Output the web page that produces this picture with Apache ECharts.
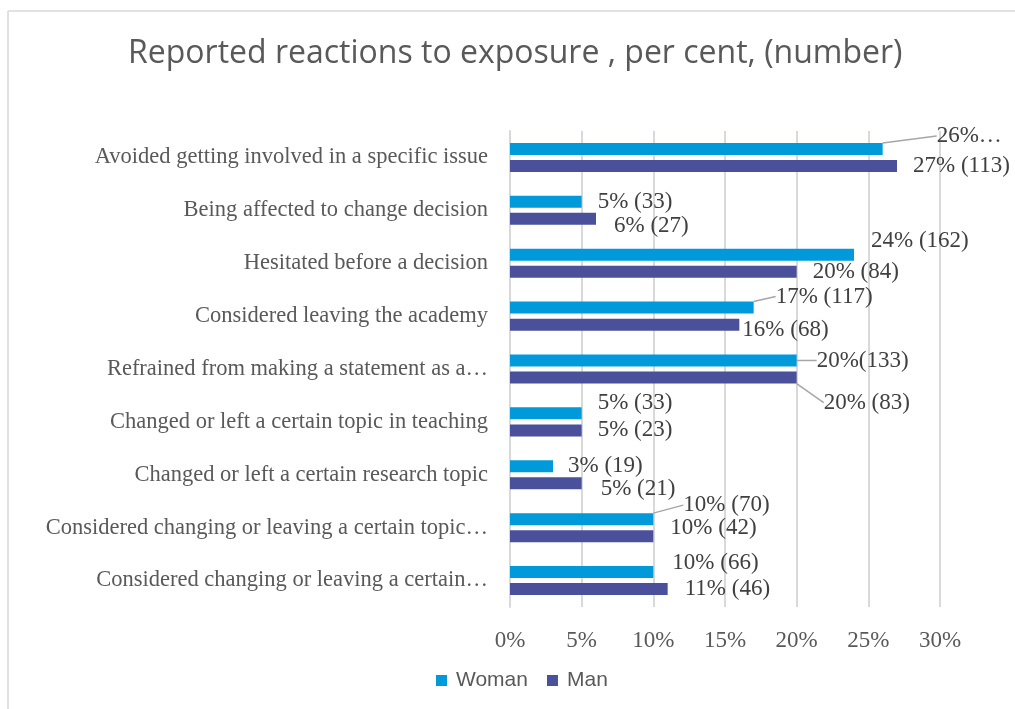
<!DOCTYPE html>
<html>
<head>
<meta charset="utf-8">
<script src="https://cdn.jsdelivr.net/npm/echarts@6/dist/echarts.min.js"></script>
<style>
  html, body { margin: 0; padding: 0; background: #fff; }
  #chart { width: 1015px; height: 709px; }
</style>
</head>
<body>
<div id="chart"></div>
<script>
var categories = [
    'Avoided getting involved in a specific issue',
    'Being affected to change decision',
    'Hesitated before a decision',
    'Considered leaving the academy',
    'Refrained from making a statement as a\u2026',
    'Changed or left a certain topic in teaching',
    'Changed or left a certain research topic',
    'Considered changing or leaving a certain topic\u2026',
    'Considered changing or leaving a certain\u2026'
];
var womanValues = [26, 5, 24, 17, 20, 5, 3, 10, 10];
var manValues = [27, 6, 20, 16, 20, 5, 5, 10, 11];
var womanLabels = ['26%\u2026', '5% (33)', '24% (162)', '17% (117)', '20%(133)', '5% (33)', '3% (19)', '10% (70)', '10% (66)'];
var manLabels = ['27% (113)', '6% (27)', '20% (84)', '16% (68)', '20% (83)', '5% (23)', '5% (21)', '10% (42)', '11% (46)'];
var xTicks = [0, 5, 10, 15, 20, 25, 30];

// where Excel moved the data labels by hand: [dx, dy, leader line]
var womanShift = [[40, -13, 1], [2, 0], [3, -14], [8, -11, 1], [6, 0, 1], [2, -10], [1, 0], [16, -14, 1], [5, -9]];
var manShift = [[2, 0], [4, 7], [2, 0], [-11, 5], [13, 25, 1], [2, 0], [5, 6], [3, -8], [3, 0]];

var textGrey = '#595959';
var serif = '"Liberation Serif", "DejaVu Serif", serif';

function barData(values, shifts) {
    return values.map(function (v, i) {
        return { value: v, labelLine: { show: !!shifts[i][2] } };
    });
}

function barSeries(name, values, labels, shifts, color) {
    return {
        name: name,
        type: 'bar',
        data: barData(values, shifts),
        barWidth: 12,
        barGap: '42%',
        itemStyle: { color: color },
        label: {
            show: true,
            position: 'right',
            distance: 14,
            fontFamily: serif,
            fontSize: 23,
            color: '#404040',
            formatter: function (p) { return labels[p.dataIndex]; }
        },
        labelLine: {
            lineStyle: { color: '#a6a6a6', width: 1.5 }
        },
        labelLayout: function (p) {
            var s = shifts[p.dataIndex];
            return { dx: s[0], dy: s[1] };
        }
    };
}

var chart = echarts.init(document.getElementById('chart'));
chart.setOption({
    backgroundColor: '#fff',
    animation: false,
    title: {
        text: 'Reported reactions to exposure , per cent, (number)',
        left: 128,
        top: 38,
        padding: 0,
        textStyle: {
            fontFamily: '"Open Sans", sans-serif',
            fontWeight: 'normal',
            fontSize: 32,
            color: textGrey
        }
    },
    legend: {
        left: 436,
        top: 670,
        padding: 0,
        icon: 'rect',
        itemWidth: 11,
        itemHeight: 11,
        itemGap: 19,
        textStyle: {
            fontFamily: '"Liberation Sans", Arial, sans-serif',
            fontSize: 21,
            color: textGrey,
            padding: [0, 0, 0, 4]
        },
        data: ['Woman', 'Man']
    },
    grid: { left: 510, right: 75, top: 131, bottom: 102 },
    xAxis: {
        type: 'value',
        min: 0,
        max: 30,
        interval: 5,
        axisLine: { show: false },
        axisTick: { show: false },
        splitLine: { lineStyle: { color: '#d9d9d9', width: 2 } },
        axisLabel: {
            margin: 22,
            fontFamily: serif,
            fontSize: 23,
            color: textGrey,
            formatter: function (v) { return xTicks.indexOf(v) >= 0 ? v + '%' : ''; }
        }
    },
    yAxis: {
        type: 'category',
        inverse: true,
        data: categories,
        axisLine: { lineStyle: { color: '#d9d9d9', width: 2 } },
        axisTick: { show: false },
        axisLabel: {
            margin: 22,
            fontFamily: serif,
            fontSize: 22.5,
            color: textGrey
        }
    },
    graphic: [
        { type: 'line', shape: { x1: 8, y1: 11, x2: 1015, y2: 11 }, style: { stroke: '#d9d9d9', lineWidth: 1.5 } },
        { type: 'line', shape: { x1: 8, y1: 11, x2: 8, y2: 709 }, style: { stroke: '#d9d9d9', lineWidth: 1.5 } }
    ],
    series: [
        barSeries('Woman', womanValues, womanLabels, womanShift, '#0099da'),
        barSeries('Man', manValues, manLabels, manShift, '#4b509b')
    ]
});
</script>
</body>
</html>
